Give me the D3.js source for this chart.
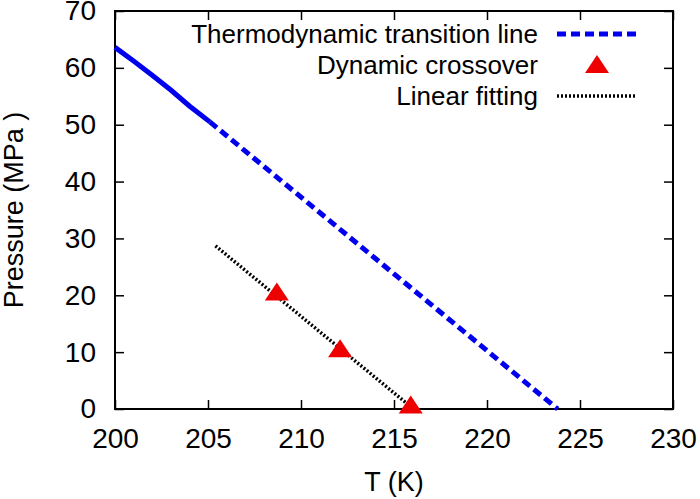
<!DOCTYPE html>
<html>
<head>
<meta charset="utf-8">
<script src="https://cdn.jsdelivr.net/npm/d3@7"></script>
<style>
  body { margin: 0; background: #fff; }
  text { font-family: "Liberation Sans", Arial, sans-serif; fill: #000; }
</style>
</head>
<body>
<div id="chart"></div>
<script>
// data
var xTicks = [200, 205, 210, 215, 220, 225, 230],
    yTicks = [0, 10, 20, 30, 40, 50, 60, 70];

// thermodynamic line, solid part (low T) and dashed part
var solidT = [200, 201, 202, 203, 204, 205.1],
    solidP = [63.6, 61.2, 58.7, 56.1, 53.3, 50.5];
var dashT = [205.1, 223.8],
    dashP = [50.5, 0];

// dynamic crossover points
var crossT = [208.7, 212.1, 215.9],
    crossP = [20.5, 10.5, 0.6];

// linear fit ends
var fitT = [205.4, 215.9],
    fitP = [28.7, 0.4];

var legendLabels = ["Thermodynamic transition line", "Dynamic crossover", "Linear fitting"];

function drawChart() {
    let width = 700,
        height = 499,
        margin = {left: 115, right: 27, top: 11, bottom: 90};

    let svg = d3.select("#chart")
        .append("svg")
        .attr("width", width)
        .attr("height", height);

    let x = d3.scaleLinear().domain([200, 230]).range([margin.left, width - margin.right]);
    let y = d3.scaleLinear().domain([0, 70]).range([height - margin.bottom, margin.top]);

    let tickLen = 9;

    // inward ticks on all four sides
    svg.append("g")
        .attr("transform", "translate(0," + y(0) + ")")
        .call(d3.axisBottom(x).tickValues(xTicks).tickSize(-tickLen).tickPadding(19).tickFormat(d3.format("d")))
        .call(g => g.select(".domain").remove())
        .call(g => g.selectAll("text").style("font-size", "28px").attr("dy", "0.71em"));

    svg.append("g")
        .attr("transform", "translate(0," + y(70) + ")")
        .call(d3.axisTop(x).tickValues(xTicks).tickSize(-tickLen).tickFormat(""))
        .call(g => g.select(".domain").remove());

    svg.append("g")
        .attr("transform", "translate(" + x(200) + ",0)")
        .call(d3.axisLeft(y).tickValues(yTicks).tickSize(-tickLen).tickPadding(19).tickFormat(d3.format("d")))
        .call(g => g.select(".domain").remove())
        .call(g => g.selectAll("text").style("font-size", "28px"));

    svg.append("g")
        .attr("transform", "translate(" + x(230) + ",0)")
        .call(d3.axisRight(y).tickValues(yTicks).tickSize(-tickLen).tickFormat(""))
        .call(g => g.select(".domain").remove());

    svg.selectAll(".tick line").attr("stroke", "#000").attr("stroke-width", 1.5);

    // frame
    svg.append("rect")
        .attr("x", x(200)).attr("y", y(70))
        .attr("width", x(230) - x(200)).attr("height", y(0) - y(70))
        .attr("fill", "none").attr("stroke", "#000").attr("stroke-width", 2);

    // axis titles
    svg.append("text")
        .attr("x", (x(200) + x(230)) / 2).attr("y", 491)
        .attr("text-anchor", "middle")
        .style("font-size", "27px")
        .text("T (K)");

    svg.append("text")
        .attr("transform", "translate(23," + (y(0) + y(70)) / 2 + ") rotate(-90)")
        .attr("text-anchor", "middle")
        .style("font-size", "27px")
        .text("Pressure (MPa )");

    let line = d3.line().x(d => x(d[0])).y(d => y(d[1]));

    svg.append("path")
        .datum(d3.zip(solidT, solidP))
        .attr("d", line)
        .attr("fill", "none").attr("stroke", "#0000ee").attr("stroke-width", 5);

    svg.append("path")
        .datum(d3.zip(dashT, dashP))
        .attr("d", line)
        .attr("fill", "none").attr("stroke", "#0000ee").attr("stroke-width", 5)
        .attr("stroke-dasharray", "9,5");

    svg.append("path")
        .datum(d3.zip(fitT, fitP))
        .attr("d", line)
        .attr("fill", "none").attr("stroke", "#000").attr("stroke-width", 3.5)
        .attr("stroke-dasharray", "2,2");

    let tri = "M0,-10L12,8L-12,8Z";

    svg.selectAll(".tri")
        .data(d3.zip(crossT, crossP))
        .enter().append("path")
        .attr("class", "tri")
        .attr("d", tri)
        .attr("transform", d => "translate(" + x(d[0]) + "," + y(d[1]) + ")")
        .attr("fill", "#ee0000");

    // legend
    let lx = 538, rows = [34, 65, 96];
    let legend = svg.append("g");
    legend.selectAll("text")
        .data(legendLabels)
        .enter().append("text")
        .attr("x", lx).attr("y", (d, i) => rows[i])
        .attr("dy", "0.35em")
        .attr("text-anchor", "end")
        .style("font-size", "26px")
        .text(d => d);

    legend.append("line")
        .attr("x1", 557).attr("x2", 636).attr("y1", rows[0]).attr("y2", rows[0])
        .attr("stroke", "#0000ee").attr("stroke-width", 5).attr("stroke-dasharray", "9,5");

    legend.append("path")
        .attr("d", tri)
        .attr("transform", "translate(597," + rows[1] + ")")
        .attr("fill", "#ee0000");

    legend.append("line")
        .attr("x1", 557).attr("x2", 636).attr("y1", rows[2]).attr("y2", rows[2])
        .attr("stroke", "#000").attr("stroke-width", 3.5).attr("stroke-dasharray", "2,2");
}

drawChart();
</script>
</body>
</html>
